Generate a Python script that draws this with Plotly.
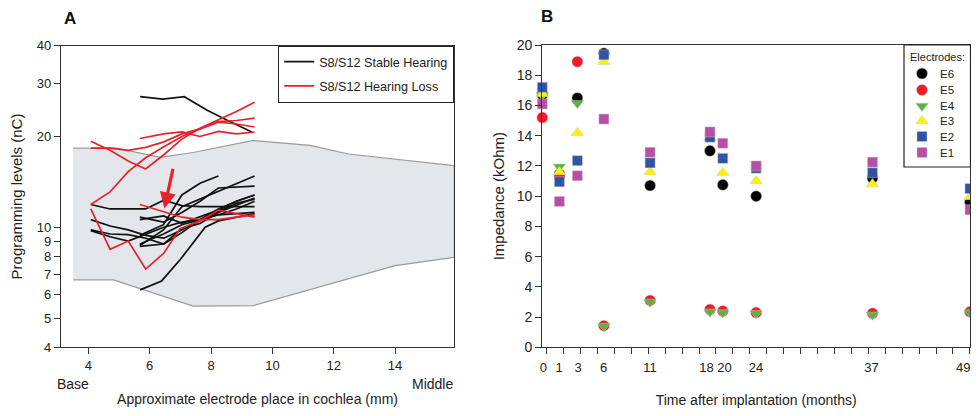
import math
import plotly.graph_objects as go

FONT = "Liberation Sans, Arial, sans-serif"
TXT = "#222222"

# The page body adds an 8 px margin: the figure is placed at (8, 8)
W, H, OFF = 971, 400, 8


def px(X):
    return (X - OFF) / W


def py(Y):
    return 1 - (Y - OFF) / H


# ---------------- Panel A data ----------------
band_upper_x = [3.51, 4.93, 6.34, 7.42, 9.38, 11.23, 12.48, 14.0, 15.93]
band_upper_y = [18.3, 18.3, 17.06, 17.7, 19.4, 18.7, 17.5, 16.8, 16.0]
band_lower_x = [3.51, 4.82, 7.42, 9.38, 14.0, 15.93]
band_lower_y = [6.69, 6.69, 5.48, 5.5, 7.46, 7.95]

E10 = [4.08, 4.71, 5.30, 5.87, 6.46, 7.05, 7.64, 8.24, 8.83, 9.42]
E7 = [5.68, 6.45, 7.05, 7.64, 8.24, 8.83, 9.42]

stable_x = [
    [5.69, 6.43, 7.13, 7.86, 8.51, 9.33],
    E10, E10, E10, E10,
    [5.68, 6.45, 7.05, 7.64, 8.24],
    E7, E7, E7, E7,
    [5.69, 6.39, 6.99, 7.81, 8.24, 8.83, 9.42],
    E7,
]
stable_y = [
    [27.1, 26.6, 27.1, 24.5, 22.7, 20.7],
    [11.9, 11.5, 11.5, 11.5, 12.3, 11.8, 11.7, 11.7, 11.7, 11.7],
    [10.6, 10.1, 9.8, 9.4, 9.2, 9.8, 10.6, 11.3, 12.0, 12.4],
    [9.8, 9.5, 9.45, 9.2, 8.8, 9.6, 10.6, 11.5, 12.2, 12.8],
    [9.75, 9.3, 9.0, 9.5, 10.0, 10.4, 10.6, 11.0, 11.1, 11.2],
    [9.4, 10.2, 12.8, 14.0, 14.8],
    [8.7, 9.8, 11.7, 12.4, 13.1, 13.9, 14.8],
    [10.8, 10.4, 11.2, 12.2, 13.5, 13.6, 13.7],
    [10.6, 10.9, 10.3, 10.8, 11.4, 12.2, 12.8],
    [8.65, 8.8, 9.9, 10.3, 11.2, 11.8, 12.5],
    [6.2, 6.64, 7.8, 10.0, 10.5, 10.8, 11.1],
    [8.8, 9.5, 10.2, 10.6, 11.0, 11.5, 12.2],
]

loss_x = [E10, E10, E10, E7,
          [4.08, 4.71, 5.30, 5.87, 6.46, 6.99, 7.64, 8.24, 8.83, 9.42],
          E7]
loss_y = [
    [19.3, 18.0, 16.6, 15.6, 17.4, 19.6, 21.3, 22.7, 24.2, 26.0],
    [18.3, 18.3, 18.0, 18.4, 19.2, 20.4, 21.2, 22.4, 22.6, 23.0],
    [11.9, 13.1, 15.3, 17.0, 18.5, 20.0, 21.2, 22.3, 22.0, 21.5],
    [19.7, 20.4, 20.7, 20.0, 20.8, 20.4, 20.7],
    [11.5, 8.45, 9.0, 7.27, 8.2, 9.9, 10.5, 11.4, 11.1, 10.8],
    [11.9, 11.3, 10.8, 10.6, 10.6, 10.8, 11.0],
]

arrow_head = (6.48, 11.55)
arrow_tail = (6.77, 15.8)

a_xticks = [4, 6, 8, 10, 12, 14]
a_yticks = [4, 5, 6, 7, 8, 9, 10, 20, 30, 40]

# ---------------- Panel B data ----------------
months_labels = ["0", "1", "3", "6", "11", "18", "20", "24", "37", "49"]
months_label_pos = [-0.88, 0.97, 3.18, 6.16, 11.58, 18.2, 20.3, 23.98, 37.48, 48.2]
months_pos = [-1.0, 1.0, 3.1, 6.2, 11.6, 18.6, 20.1, 24.0, 37.6, 49.0]

E6 = [16.7, 11.45, 16.5, 19.45, 10.7, 13.0, 10.75, 10.0, 11.2, 9.6]
E5 = [15.2, 11.3, 18.9, 1.43, 3.1, 2.5, 2.4, 2.3, 2.25, 2.35]
E4 = [16.7, 11.95, 16.15, 1.4, 3.0, 2.35, 2.3, 2.25, 2.15, 2.3]
E3 = [16.75, 11.6, 14.2, 18.9, 11.6, 13.85, 11.55, 11.0, 10.8, 9.95]
E2 = [17.2, 10.95, 12.35, 19.35, 12.2, 13.9, 12.5, 11.85, 11.55, 10.5]
E1 = [16.1, 9.65, 11.35, 15.1, 12.9, 14.25, 13.5, 12.0, 12.25, 9.1]

electrodes = [
    ("E6", E6, "circle", "#000000", 11),
    ("E5", E5, "circle", "#ee1c25", 11),
    ("E4", E4, "triangle-down", "#5cb344", 11),
    ("E3", E3, "triangle-up", "#fff200", 11),
    ("E2", E2, "square", "#3153a6", 10),
    ("E1", E1, "square", "#b94fa4", 10),
]
MARKER_EDGE = dict(color="rgba(200,200,200,0.8)", width=0.6)

# panel geometry (page pixels)
plot_bottom, a_top, b_top = 347.3, 45.7, 45.0
A_LEFT, A_RIGHT = 61, 454
B_LEFT, B_RIGHT = 542.3, 970.0
B_XR, B_YR = (-1.0, 49.0), (0, 20)


def bx(X):
    return B_XR[0] + (X - B_LEFT) / (B_RIGHT - B_LEFT) * (B_XR[1] - B_XR[0])


def by(Y):
    return B_YR[0] + (plot_bottom - Y) / (plot_bottom - b_top) * (B_YR[1] - B_YR[0])


fig = go.Figure()

# band
fig.add_trace(go.Scatter(
    x=band_upper_x + band_lower_x[::-1],
    y=band_upper_y + band_lower_y[::-1],
    mode="lines", fill="toself", fillcolor="#e3e6ea",
    line=dict(color="#9a9a9a", width=1.2),
    showlegend=False, hoverinfo="skip", xaxis="x", yaxis="y"))

for i, (xs, ys) in enumerate(zip(stable_x, stable_y)):
    fig.add_trace(go.Scatter(
        x=xs, y=ys, mode="lines", line=dict(color="#111111", width=1.7),
        name="S8/S12 Stable Hearing", legendgroup="stable",
        showlegend=(i == 0), xaxis="x", yaxis="y"))
for i, (xs, ys) in enumerate(zip(loss_x, loss_y)):
    fig.add_trace(go.Scatter(
        x=xs, y=ys, mode="lines", line=dict(color="#e8222b", width=1.7),
        name="S8/S12 Hearing Loss", legendgroup="loss",
        showlegend=(i == 0), xaxis="x", yaxis="y"))

for name, vals, sym, col, sz in electrodes:
    fig.add_trace(go.Scatter(
        x=months_pos, y=vals, mode="markers", name=name,
        marker=dict(symbol=sym, color=col, size=sz, line=MARKER_EDGE, opacity=1),
        cliponaxis=False, showlegend=False, xaxis="x2", yaxis="y2"))

# ---- legend key for panel B (compact box) ----
LEG_BOX = (904, 45, 970.5, 167)
LEG_KEY_X, LEG_TEXT_X = 922, 938
LEG_ROWS = [73.5, 90, 106, 121, 136.5, 152.5]
fig.add_trace(go.Scatter(
    x=[bx(LEG_KEY_X)] * len(electrodes), y=[by(r) for r in LEG_ROWS], mode="markers",
    marker=dict(symbol=[e[2] for e in electrodes], color=[e[3] for e in electrodes],
                size=[e[4] for e in electrodes], line=MARKER_EDGE, opacity=1),
    cliponaxis=False, showlegend=False, hoverinfo="skip",
    xaxis="x2", yaxis="y2"))

axis_common = dict(showline=True, linecolor="#333333", linewidth=1.3, mirror=True,
                   ticks="outside", ticklen=6, tickcolor="#333333", tickwidth=1.2,
                   showgrid=False, zeroline=False, automargin=False)


def ann(text, X, Y, size=14, xanchor="center", bold=False):
    return dict(text=f"<b>{text}</b>" if bold else text, x=px(X), y=py(Y),
                xref="paper", yref="paper", xanchor=xanchor, yanchor="middle",
                showarrow=False, font=dict(family=FONT, size=size,
                                           color="#111111" if bold else TXT))


annotations = [
    dict(x=arrow_head[0], y=math.log10(arrow_head[1]),
         ax=arrow_tail[0], ay=math.log10(arrow_tail[1]),
         xref="x", yref="y", axref="x", ayref="y",
         showarrow=True, arrowhead=2, arrowsize=1.0, arrowwidth=3.2,
         arrowcolor="#e8222b", text=""),
    ann("A", 70, 19, size=17, bold=True),
    ann("B", 547, 16, size=17, bold=True),
    ann("Base", 73, 384),
    ann("Middle", 455, 384, xanchor="right"),
    ann("Electrodes:", (LEG_BOX[0] + LEG_BOX[2]) / 2, 57, size=11),
]
for (name, *_), row in zip(electrodes, LEG_ROWS):
    annotations.append(ann(name, LEG_TEXT_X, row, size=11.5, xanchor="left"))

fig.update_layout(
    width=W, height=H,
    margin=dict(l=0, r=0, t=0, b=0, autoexpand=False),
    paper_bgcolor="white", plot_bgcolor="white",
    font=dict(family=FONT, color=TXT),
    xaxis=dict(domain=[px(A_LEFT), px(A_RIGHT)], range=[3.11, 15.92],
               tickmode="array", tickvals=a_xticks, tickangle=0,
               tickfont=dict(family=FONT, size=13, color=TXT),
               title=dict(text="Approximate electrode place in cochlea (mm)",
                          font=dict(family=FONT, size=14, color=TXT), standoff=22),
               **axis_common),
    yaxis=dict(domain=[py(plot_bottom), py(a_top)], type="log",
               range=[math.log10(4), math.log10(40)],
               tickmode="array", tickvals=a_yticks, ticktext=[str(v) for v in a_yticks],
               tickfont=dict(family=FONT, size=13, color=TXT),
               title=dict(text="Programming levels (nC)",
                          font=dict(family=FONT, size=15, color=TXT), standoff=10),
               **axis_common),
    xaxis2=dict(domain=[px(B_LEFT), px(B_RIGHT)], range=list(B_XR), anchor="y2",
                tickmode="array", tickvals=months_label_pos, ticktext=months_labels,
                tickangle=0, automargin=False,
                showline=True, linecolor="#333333", linewidth=1.3, mirror=True,
                ticks="outside", ticklen=8, tickcolor="rgba(0,0,0,0)",
                minor=dict(tickmode="linear", tick0=-0.49, dtick=1.979,
                           ticks="outside", ticklen=6, tickcolor="#333333", tickwidth=1.2),
                showgrid=False, zeroline=False,
                tickfont=dict(family=FONT, size=13, color=TXT),
                title=dict(text="Time after implantation (months)",
                           font=dict(family=FONT, size=14, color=TXT), standoff=22)),
    yaxis2=dict(domain=[py(plot_bottom), py(b_top)], range=list(B_YR), anchor="x2",
                tickmode="linear", tick0=0, dtick=2,
                tickfont=dict(family=FONT, size=14, color=TXT),
                title=dict(text="Impedance (kOhm)",
                           font=dict(family=FONT, size=15, color=TXT), standoff=8),
                **axis_common),
    legend=dict(x=px(A_RIGHT), xanchor="right", y=py(a_top), yanchor="top",
                bordercolor="#222222", borderwidth=1.2, bgcolor="white",
                font=dict(family=FONT, size=12.6, color=TXT),
                tracegroupgap=5, itemwidth=30),
    shapes=[dict(type="rect", xref="paper", yref="paper",
                 x0=px(LEG_BOX[0]), y0=py(LEG_BOX[1]), x1=px(LEG_BOX[2]), y1=py(LEG_BOX[3]),
                 line=dict(color="#222222", width=1.2), fillcolor="rgba(0,0,0,0)",
                 layer="above")],
    annotations=annotations,
)

fig.write_html("out.html")
